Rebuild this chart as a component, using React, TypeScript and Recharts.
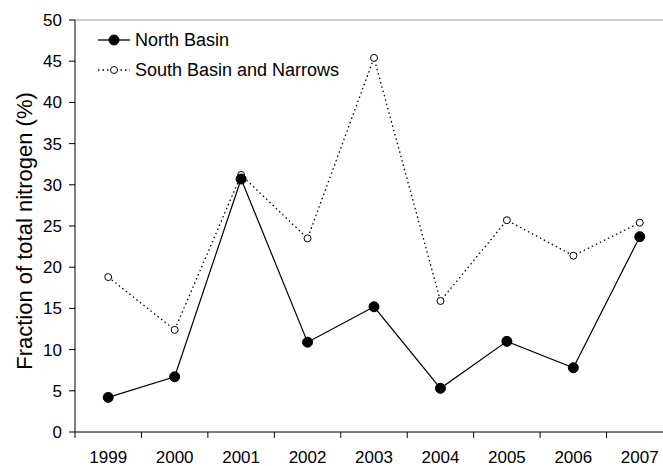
import { LineChart, Line, XAxis, YAxis, ReferenceLine, Legend, Label } from "recharts";

const years = [1999, 2000, 2001, 2002, 2003, 2004, 2005, 2006, 2007];
const northBasin = [4.2, 6.7, 30.7, 10.9, 15.2, 5.3, 11.0, 7.8, 23.7];
const southBasin = [18.8, 12.4, 31.2, 23.5, 45.4, 15.9, 25.7, 21.4, 25.4];
const yearEdges = [1998.5, 1999.5, 2000.5, 2001.5, 2002.5, 2003.5, 2004.5, 2005.5, 2006.5, 2007.5];
const yTicks = [0, 5, 10, 15, 20, 25, 30, 35, 40, 45, 50];

const font = "'Liberation Sans', Arial, sans-serif";

const data = years.map((year, i) => ({ year, north: northBasin[i], south: southBasin[i] }));

const YearTick = (props: any) => {
  const { x, y, payload } = props;
  const v = payload.value;
  if (!Number.isInteger(v)) {
    return <line x1={x} x2={x} y1={y} y2={y + 6} stroke="#000" strokeWidth={1} />;
  }
  return (
    <text x={x} y={y + 19} dy="0.71em" textAnchor="middle" fill="#000" fontSize={17} fontFamily={font}>
      {v}
    </text>
  );
};

const legendItems = [
  { name: "North Basin", dash: undefined, fill: "#000", r: 5 },
  { name: "South Basin and Narrows", dash: "1.5 3", fill: "#fff", r: 3.5 },
];

const LegendBox = () => (
  <div style={{ fontFamily: font, fontSize: 18, color: "#000" }}>
    {legendItems.map((it) => (
      <div key={it.name} style={{ display: "flex", alignItems: "center", height: 30 }}>
        <svg width={38} height={12} style={{ display: "block" }}>
          <line x1={1} x2={33} y1={6} y2={6} stroke="#000" strokeWidth={1.3} strokeDasharray={it.dash} />
          <circle cx={17} cy={6} r={it.r} fill={it.fill} stroke="#000" strokeWidth={1} />
        </svg>
        <span>{it.name}</span>
      </div>
    ))}
  </div>
);

export default function App() {
  return (
    <div style={{ position: "absolute", left: 0, top: 0, width: 663, height: 466, overflow: "hidden", background: "#fff" }}>
      <LineChart width={680} height={466} data={data} margin={{ top: 20, right: 7, left: 0, bottom: 0 }}>
        <ReferenceLine y={50} stroke="#bbb" strokeWidth={1.5} />
        <XAxis
          dataKey="year"
          type="number"
          domain={[1998.5, 2007.5]}
          ticks={[...years, ...yearEdges]}
          interval={0}
          tick={YearTick}
          tickLine={false}
          tickSize={0}
          tickMargin={0}
          height={34}
          axisLine={{ stroke: "#000", strokeWidth: 1 }}
        />
        <YAxis
          domain={[0, 50]}
          ticks={yTicks}
          interval={0}
          width={75}
          tickSize={6}
          tickMargin={7}
          tick={{ fill: "#000", fontSize: 17, fontFamily: font }}
          tickLine={{ stroke: "#000" }}
          axisLine={{ stroke: "#000", strokeWidth: 1 }}
        >
          <Label
            content={({ viewBox }: any) => {
              const cy = viewBox.y + viewBox.height / 2 + 5;
              return (
                <text
                  x={24}
                  y={cy}
                  transform={`rotate(-90, 24, ${cy})`}
                  textAnchor="middle"
                  dominantBaseline="central"
                  fill="#000"
                  fontSize={22}
                  fontFamily={font}
                >
                  Fraction of total nitrogen (%)
                </text>
              );
            }}
          />
        </YAxis>
        <Legend
          layout="vertical"
          align="center"
          verticalAlign="middle"
          content={LegendBox}
          wrapperStyle={{ top: 25, left: 97, width: 320 }}
        />
        <Line
          dataKey="south"
          stroke="#000"
          strokeWidth={1.3}
          strokeDasharray="1.5 3"
          dot={{ r: 3.5, fill: "#fff", stroke: "#000", strokeWidth: 1, strokeDasharray: "" }}
          isAnimationActive={false}
        />
        <Line
          dataKey="north"
          stroke="#000"
          strokeWidth={1.2}
          dot={{ r: 5, fill: "#000", stroke: "#000", strokeWidth: 1 }}
          isAnimationActive={false}
        />
      </LineChart>
    </div>
  );
}
